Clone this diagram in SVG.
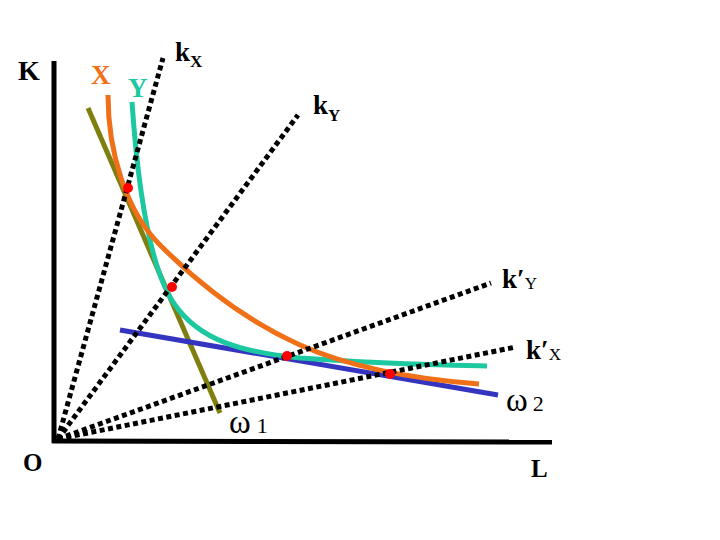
<svg xmlns="http://www.w3.org/2000/svg" width="720" height="540" viewBox="0 0 720 540">
<style>
.t{font-family:"Liberation Serif","Times New Roman",serif;fill:#000}
.b{font-weight:bold}
.ray{stroke:#000;stroke-width:5;stroke-dasharray:5 3.5;fill:none}
.axis{stroke:#000;stroke-width:5;fill:none}
.cur{fill:none;stroke-width:5;stroke-linecap:butt}
.dot{fill:#ff0000}
</style>
<rect width="720" height="540" fill="#fff"/>
<g id="axes">
<line class="axis" x1="54" y1="61" x2="54" y2="443"/>
<line class="axis" x1="52" y1="441" x2="552" y2="442"/>
</g>
<g id="omega1-line"><line class="cur" x1="88" y1="108" x2="220" y2="413" stroke="#7f7f10" stroke-width="6"/></g>
<g id="omega2-line"><line class="cur" x1="120" y1="330" x2="498" y2="395" stroke="#3434c0"/></g>
<g id="curve-Y"><path class="cur" stroke="#1cc8a0" d="M132,102 C138,190 150,270 175,305 C200,340 240,352 300,358 C380,364 440,365 487,366"/></g>
<g id="curve-X"><path class="cur" stroke="#f07018" d="M108,95 C108,150 125,210 160,245 C195,280 240,318 300,345 C345,365 400,378 479,384"/></g>
<g id="connectors">
<line class="ray" x1="58" y1="439" x2="163" y2="58"/>
<line class="ray" x1="58" y1="439" x2="298" y2="115"/>
<line class="ray" x1="58" y1="439" x2="491" y2="283"/>
<line class="ray" x1="58" y1="439" x2="516" y2="347"/>
</g>
<g id="points">
<circle class="dot" cx="128" cy="188" r="5"/>
<circle class="dot" cx="172" cy="287" r="5"/>
<circle class="dot" cx="287" cy="356" r="5"/>
<circle class="dot" cx="390" cy="374" r="5"/>
</g>
<g id="labels">
<text class="t b" x="18" y="80" font-size="28">K</text>
<text class="t b" x="23" y="471" font-size="25">O</text>
<text class="t b" x="531" y="477" font-size="25">L</text>
<text class="t b" x="91" y="84" font-size="27" style="fill:#f07018">X</text>
<text class="t b" x="128" y="97" font-size="27" style="fill:#1cc8a0">Y</text>
<text class="t b" x="175" y="61" font-size="27">k<tspan font-size="17" dy="6">X</tspan></text>
<text class="t b" x="313" y="114" font-size="27">k<tspan font-size="17" dy="7">Y</tspan></text>
<text class="t" x="502" y="288" font-size="27"><tspan class="b">k′</tspan><tspan font-size="17" dy="1">Y</tspan></text>
<text class="t" x="526" y="359" font-size="27"><tspan class="b">k′</tspan><tspan font-size="17" dy="1">X</tspan></text>
<text class="t" x="229" y="433" font-size="33">ω<tspan font-size="22" dx="6">1</tspan></text>
<text class="t" x="506" y="411" font-size="33">ω<tspan font-size="22" dx="5">2</tspan></text>
</g>
</svg>
